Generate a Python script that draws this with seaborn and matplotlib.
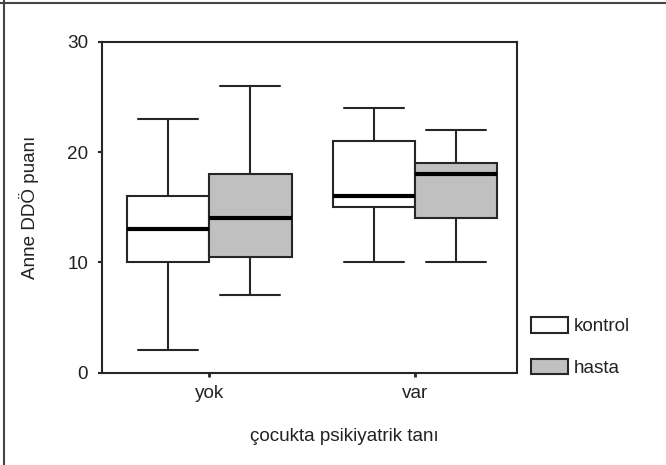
import matplotlib
matplotlib.use("Agg")
import matplotlib.pyplot as plt
from matplotlib.patches import Patch
from matplotlib.lines import Line2D
import seaborn as sns
import pandas as pd

# Five-number summaries (min, Q1, median, Q3, max)
groups = ["yok", "var"]
hue_levels = ["kontrol", "hasta"]
kontrol_yok = [2, 10, 13, 16, 23]
hasta_yok = [7, 10.5, 14, 18, 26]
kontrol_var = [10, 15, 16, 21, 24]
hasta_var = [10, 14, 18, 19, 22]
y_ticks = [0, 10, 20, 30]

rows = []
for g, h, vals in [("yok", "kontrol", kontrol_yok), ("yok", "hasta", hasta_yok),
                   ("var", "kontrol", kontrol_var), ("var", "hasta", hasta_var)]:
    for v in vals:
        rows.append({"grup": g, "durum": h, "puan": v})
df = pd.DataFrame(rows)

sns.set_theme(style="white")
plt.rcParams["font.family"] = ["Liberation Sans", "DejaVu Sans"]
FS = 13.6
TXT = "#222222"
EDGE = "#262626"

fig = plt.figure(figsize=(6.66, 4.65), dpi=100)
ax = fig.add_axes([0.1532, 0.1989, 0.6231, 0.7108])

palette = {"kontrol": "#ffffff", "hasta": "#c0c0c0"}
sns.boxplot(data=df, x="grup", y="puan", hue="durum", order=groups,
            hue_order=hue_levels, palette=palette, whis=(0, 100), width=0.8,
            gap=0, linecolor=EDGE, linewidth=1.5, saturation=1,
            medianprops=dict(linewidth=3, color="#000000"),
            capwidths=0.29, legend=False, ax=ax)

ax.set_xlim(-0.52, 1.495)
ax.set_ylim(0, 30)
ax.set_yticks(y_ticks)
ax.set_yticklabels([str(t) for t in y_ticks], fontsize=FS, color=TXT)
ax.set_xticks([0, 1])
ax.set_xticklabels(groups, fontsize=FS, color=TXT)
ax.tick_params(axis="y", left=True, length=3, width=1.5, color=EDGE, pad=7)
ax.tick_params(axis="x", bottom=True, length=3, width=2, color=EDGE, pad=6)

for s in ax.spines.values():
    s.set_visible(True)
    s.set_color(EDGE)
    s.set_linewidth(1.5)

ax.set_ylabel("Anne DDÖ puanı", fontsize=FS, color=TXT)
ax.yaxis.set_label_coords(-0.153, 0.5)
ax.set_xlabel("çocukta psikiyatrik tanı", fontsize=FS, color=TXT)
ax.xaxis.set_label_coords(0.585, -0.195)
ax.xaxis.label.set_va("center")

handles = [Patch(facecolor=palette[h], edgecolor=EDGE, linewidth=1.5, label=h)
           for h in hue_levels]
fig.legend(handles=handles, loc="upper left", bbox_to_anchor=(0.797, 0.318),
           frameon=False, fontsize=FS, handlelength=1.95, handleheight=0.88,
           handletextpad=0.3, labelspacing=1.25, borderpad=0, borderaxespad=0,
           labelcolor=TXT)

# outer frame lines (top and left)
fig.add_artist(Line2D([0, 1], [1 - 3.5 / 465, 1 - 3.5 / 465],
                      transform=fig.transFigure, color="#444444", linewidth=1.5))
fig.add_artist(Line2D([4 / 666, 4 / 666], [0, 1],
                      transform=fig.transFigure, color="#444444", linewidth=1.5))

fig.savefig("out.png", dpi=100)
